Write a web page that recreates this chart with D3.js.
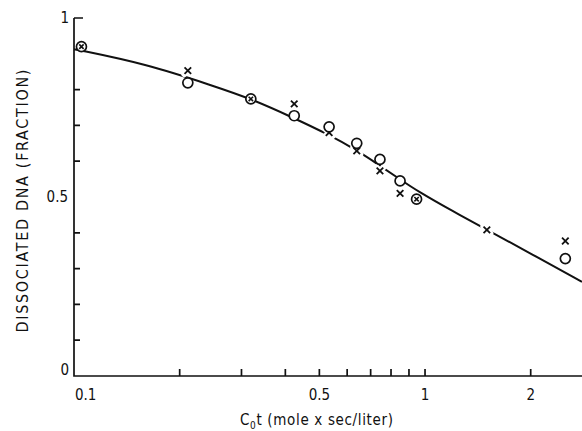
<!DOCTYPE html>
<html>
<head>
<meta charset="utf-8">
<script src="https://cdn.jsdelivr.net/npm/d3@7"></script>
<style>
  body { margin: 0; background: #fff; }
  text { font-family: "DejaVu Sans Condensed", "DejaVu Sans", sans-serif; fill: #111; }
</style>
</head>
<body>
<div id="chart"></div>
<script>
// 数据
var xTicks = [0.2, 0.3, 0.4, 0.5, 0.6, 0.7, 0.8, 0.9, 1, 2]
var xLabels = [0.1, 0.5, 1, 2]
var yTicks = [0.1, 0.2, 0.3, 0.4, 0.6, 0.7, 0.8, 1]
var yLabels = [0, 0.5, 1]

// open circles
var circleX = [0.211, 0.424, 0.533, 0.639, 0.744, 0.849, 2.51]
var circleY = [0.819, 0.727, 0.696, 0.650, 0.605, 0.545, 0.328]
// crosses
var crossX = [0.211, 0.424, 0.533, 0.639, 0.744, 0.849, 1.5, 2.51]
var crossY = [0.853, 0.760, 0.680, 0.629, 0.573, 0.510, 0.408, 0.377]
// circle + cross on the same spot
var bothX = [0.105, 0.319, 0.946]
var bothY = [0.920, 0.774, 0.494]
// fitted curve
var curveX = [0.1, 0.16, 0.25, 0.32, 0.42, 0.53, 0.64, 0.74, 0.85, 0.95, 1.2, 1.5, 2.0, 2.8]
var curveY = [0.913, 0.872, 0.810, 0.774, 0.722, 0.675, 0.630, 0.589, 0.549, 0.517, 0.460, 0.409, 0.342, 0.263]

var width = 582
var height = 431
var svg = d3.select('#chart').append('svg')
  .attr('width', width)
  .attr('height', height)

var x = d3.scaleLog().domain([0.1, 2.8]).range([74, 582])
var y = d3.scaleLinear().domain([0, 1]).range([376, 18])

var ink = '#111'

// 坐标轴 + 刻度
var axisD = 'M' + x(0.1) + ',' + y(1) + 'V' + y(0) + 'H' + x(2.8)
xTicks.forEach(function (d) {
  axisD += 'M' + x(d) + ',' + y(0) + 'v-7'
})
yTicks.forEach(function (d) {
  axisD += 'M' + x(0.1) + ',' + y(d) + 'h' + (d === 1 ? 9 : 6)
})
svg.append('path')
  .attr('class', 'axes')
  .attr('d', axisD)
  .attr('fill', 'none')
  .attr('stroke', ink)
  .attr('stroke-width', 1.7)

svg.append('g').attr('class', 'xlabels')
  .selectAll('text')
  .data(xLabels)
  .enter()
  .append('text')
  .attr('x', d => d === 0.1 ? x(d) + 1 : x(d))
  .attr('y', 400)
  .attr('text-anchor', d => d === 0.1 ? 'start' : 'middle')
  .attr('font-size', '15px')
  .text(d => String(d))

svg.append('g').attr('class', 'ylabels')
  .selectAll('text')
  .data(yLabels)
  .enter()
  .append('text')
  .attr('x', d => d === 0.5 ? 68 : 69)
  .attr('y', d => d === 0 ? y(d) - 6 : y(d))
  .attr('dy', '0.36em')
  .attr('text-anchor', 'end')
  .attr('font-size', '15px')
  .text(d => String(d))

// 轴标题
var xt = svg.append('text')
  .attr('x', 240)
  .attr('y', 425)
  .attr('font-size', '15px')
xt.append('tspan').text('C')
xt.append('tspan').attr('font-size', '10px').attr('dy', 4).text('0')
xt.append('tspan').attr('dy', -4).text('t (mole x sec/liter)')
xt.attr('textLength', 153).attr('lengthAdjust', 'spacing')

svg.append('text')
  .attr('transform', 'translate(28,201) rotate(-90)')
  .attr('text-anchor', 'middle')
  .attr('font-size', '16px')
  .attr('textLength', 263)
  .attr('lengthAdjust', 'spacing')
  .text('DISSOCIATED DNA (FRACTION)')

// 曲线
var curvePts = curveX.map((d, i) => [d, curveY[i]])
svg.append('path')
  .datum(curvePts)
  .attr('fill', 'none')
  .attr('stroke', ink)
  .attr('stroke-width', 2)
  .attr('d', d3.line().x(d => x(d[0])).y(d => y(d[1])).curve(d3.curveBasis))

function crossPath (cx, cy, r) {
  return 'M' + (cx - r) + ',' + (cy - r) + 'L' + (cx + r) + ',' + (cy + r) +
    'M' + (cx - r) + ',' + (cy + r) + 'L' + (cx + r) + ',' + (cy - r)
}

// 叉号
var crossPts = crossX.map((d, i) => [d, crossY[i]])
svg.append('g').attr('class', 'halos')
  .selectAll('path')
  .data(crossPts)
  .enter()
  .append('path')
  .attr('d', d => crossPath(x(d[0]), y(d[1]), 3.5))
  .attr('stroke', '#fff').attr('stroke-width', 6).attr('stroke-linecap', 'round')
svg.append('g').attr('class', 'crosses')
  .selectAll('path')
  .data(crossPts)
  .enter()
  .append('path')
  .attr('d', d => crossPath(x(d[0]), y(d[1]), 3.3))
  .attr('stroke', ink).attr('stroke-width', 1.8)

// 圆圈
var circlePts = circleX.map((d, i) => [d, circleY[i]])
svg.append('g').attr('class', 'circles')
  .selectAll('circle')
  .data(circlePts)
  .enter()
  .append('circle')
  .attr('cx', d => x(d[0])).attr('cy', d => y(d[1]))
  .attr('r', 5)
  .attr('fill', '#fff')
  .attr('stroke', ink).attr('stroke-width', 1.7)

// 圆圈 + 叉号
var bothPts = bothX.map((d, i) => [d, bothY[i]])
var both = svg.append('g').attr('class', 'both')
both.selectAll('circle')
  .data(bothPts)
  .enter()
  .append('circle')
  .attr('cx', d => x(d[0])).attr('cy', d => y(d[1]))
  .attr('r', 5)
  .attr('fill', '#fff')
  .attr('stroke', ink).attr('stroke-width', 1.7)
both.selectAll('path')
  .data(bothPts)
  .enter()
  .append('path')
  .attr('d', d => crossPath(x(d[0]), y(d[1]), 2.2))
  .attr('stroke', ink).attr('stroke-width', 1.6)
</script>
</body>
</html>
